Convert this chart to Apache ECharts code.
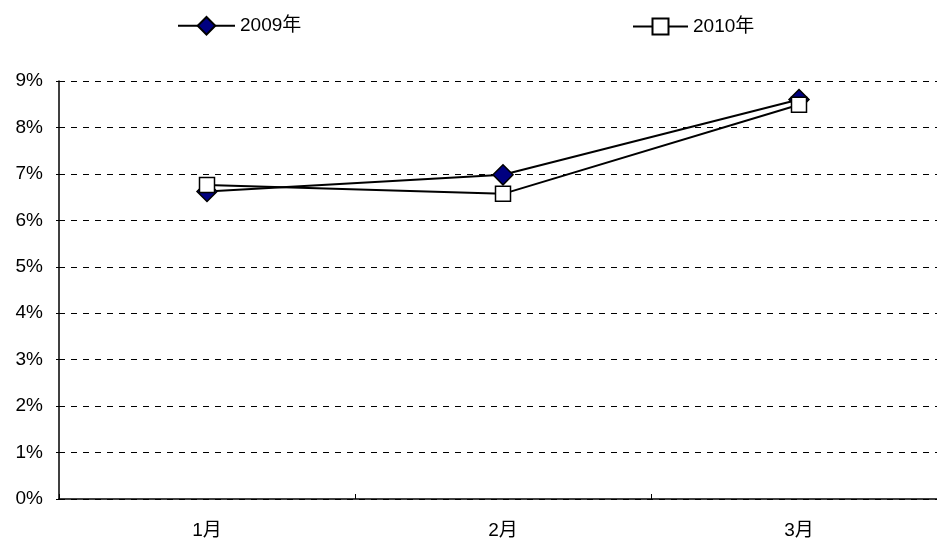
<!DOCTYPE html>
<html>
<head>
<meta charset="utf-8">
<script src="https://cdn.jsdelivr.net/npm/echarts@6/dist/echarts.min.js"></script>
<style>
html,body{margin:0;padding:0;background:#fff;}
#chart{width:937px;height:540px;}
</style>
</head>
<body>
<div id="chart"></div>
<script>
// Monthly rates, percent
const months = ['1月', '2月', '3月'];
const series2009 = [6.62, 6.98, 8.6];
const series2010 = [6.76, 6.57, 8.49];
const yTicks = [0, 1, 2, 3, 4, 5, 6, 7, 8, 9];

const FONT = '"Liberation Sans", Arial, "Noto Sans CJK SC", sans-serif';

const chart = echarts.init(document.getElementById('chart'));
chart.setOption({
  animation: false,
  backgroundColor: '#ffffff',
  legend: [
    {
      data: ['2009年'], left: 172, top: 11,
      itemWidth: 57, itemHeight: 22, itemGap: 8,
      textStyle: { fontFamily: FONT, fontSize: 19, color: '#000' }
    },
    {
      data: ['2010年'], left: 627, top: 12,
      itemWidth: 55, itemHeight: 20, itemGap: 8,
      textStyle: { fontFamily: FONT, fontSize: 19, color: '#000' }
    }
  ],
  // plot area runs past the right edge of the canvas
  grid: { left: 59, top: 81, width: 888, bottom: 41, containLabel: false, outerBoundsMode: 'none' },
  xAxis: {
    type: 'category',
    data: months,
    boundaryGap: true,
    axisLine: { lineStyle: { color: '#000', width: 1.5 } },
    axisTick: { show: true, inside: true, length: 5, lineStyle: { color: '#000' } },
    axisLabel: { fontFamily: FONT, fontSize: 19, color: '#000', margin: 22 },
    splitLine: { show: false }
  },
  yAxis: {
    type: 'value',
    min: yTicks[0], max: yTicks[yTicks.length - 1], interval: 1,
    axisLine: { show: true, lineStyle: { color: '#000', width: 1.5 } },
    axisTick: { show: true, length: 3, lineStyle: { color: '#000' } },
    axisLabel: { fontFamily: FONT, fontSize: 19, color: '#000', margin: 16,
      formatter: v => v + '%' },
    splitLine: { show: true, lineStyle: { color: '#000', type: [6, 6], width: 1 } }
  },
  series: [
    {
      name: '2009年', type: 'line', data: series2009,
      symbol: 'diamond', symbolSize: 20,
      lineStyle: { color: '#000', width: 2 },
      itemStyle: { color: '#000080', borderColor: '#000', borderWidth: 1.5 },
      z: 2
    },
    {
      name: '2010年', type: 'line', data: series2010,
      symbol: 'rect', symbolSize: 15,
      lineStyle: { color: '#000', width: 2 },
      itemStyle: { color: '#ffffff', borderColor: '#000', borderWidth: 1.5 },
      z: 3
    }
  ]
});
</script>
</body>
</html>
